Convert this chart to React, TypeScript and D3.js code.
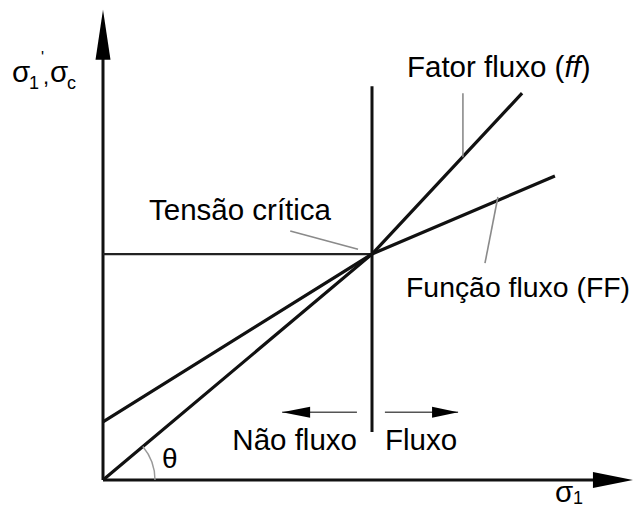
import React from 'react';
import * as d3 from 'd3';

// chart values, in arbitrary stress units
const criticalPoint: [number, number] = [50, 42];
const fatorFluxo: [number, number][] = [[0, 0], [50, 42], [77.9, 71.9]];
const funcaoFluxo: [number, number][] = [[0, 10.8], [50, 42], [84.0, 56.5]];
const criticalLine: [number, number][] = [[50, 8.9], [50, 73.2]];
const tensionLine: [number, number][] = [[0, 42], [50, 42]];
const axisEnds = { x: 98.5, y: 87.4 };
const noFlowArrow: [number, number][] = [[47.2, 12.6], [33.3, 12.6]];
const flowArrow: [number, number][] = [[52.4, 12.6], [66.0, 12.6]];
const leaders: [number, number][][] = [
  [[66.9, 71.9], [66.9, 60.0]],
  [[73.4, 52.6], [71.0, 40.3]],
  [[34.8, 46.3], [47.4, 42.9]],
];
const labels = ['Tensão crítica', 'Fator fluxo (', 'ff', ')', 'Função fluxo (FF)', 'Não fluxo', 'Fluxo', 'θ'];

const W = 634;
const H = 510;
const FONT = 'Liberation Sans, Arial, Helvetica, sans-serif';

export default function App() {
  const x = d3.scaleLinear().domain([0, 100]).range([103, 641]);
  const y = d3.scaleLinear().domain([0, 100]).range([480, -58]);
  const line = d3.line<[number, number]>().x(d => x(d[0])).y(d => y(d[1]));

  const ox = x(0), oy = y(0);
  const tipX = x(axisEnds.x), tipY = y(axisEnds.y);

  // theta arc between x axis and the ff line
  const angle = Math.atan2(y(0) - y(criticalPoint[1]), x(criticalPoint[0]) - x(0));
  const arc = d3.arc()({
    innerRadius: 52, outerRadius: 52,
    startAngle: Math.PI / 2 - angle, endAngle: Math.PI / 2,
  } as any);

  const arrowHead = (pts: [number, number][], len: number, half: number) => {
    const [a, b] = pts;
    const x1 = x(b[0]), yy = y(b[1]);
    const dir = x(b[0]) > x(a[0]) ? 1 : -1;
    return `M${x1},${yy} L${x1 - dir * len},${yy - half} L${x1 - dir * len},${yy + half} Z`;
  };

  return (
    <svg width={W} height={H} style={{ position: 'absolute', left: 0, top: 0, background: '#fff' }}
      fontFamily={FONT}>
      {/* axes */}
      <line x1={ox} y1={oy} x2={tipX - 30} y2={oy} stroke="#111" strokeWidth={3} />
      <line x1={ox} y1={oy} x2={ox} y2={tipY + 40} stroke="#111" strokeWidth={3} />
      <path d={`M${tipX},${oy} L${tipX - 40},${oy - 8} L${tipX - 40},${oy + 8} Z`} fill="#000" />
      <path d={`M${ox},${tipY} L${ox - 7.5},${tipY + 50} L${ox + 7.5},${tipY + 50} Z`} fill="#000" />

      {/* critical stress lines */}
      <path d={line(tensionLine)!} stroke="#222" strokeWidth={2.2} fill="none" />
      <path d={line(criticalLine)!} stroke="#111" strokeWidth={3} fill="none" />

      {/* flow factor and flow function */}
      <path d={line(fatorFluxo)!} stroke="#111" strokeWidth={3.2} fill="none" strokeLinejoin="round" />
      <path d={line(funcaoFluxo)!} stroke="#111" strokeWidth={3.2} fill="none" strokeLinejoin="round" />

      {/* leader lines */}
      {leaders.map((l, i) => (
        <path key={i} d={line(l)!} stroke="#8a8a8a" strokeWidth={1.6} fill="none" />
      ))}

      {/* flow arrows */}
      <path d={line(noFlowArrow)!} stroke="#555" strokeWidth={1.5} fill="none" />
      <path d={arrowHead(noFlowArrow, 28, 5.5)} fill="#000" />
      <path d={line(flowArrow)!} stroke="#555" strokeWidth={1.5} fill="none" />
      <path d={arrowHead(flowArrow, 26, 5.5)} fill="#000" />

      {/* theta */}
      <path d={arc!} transform={`translate(${ox},${oy})`} stroke="#999" strokeWidth={1.4} fill="none" />

      <g fontSize={29.5} fill="#000">
        <text x={149} y={220}>{labels[0]}</text>
        <text x={407} y={77}>{labels[1]}<tspan fontStyle="italic">{labels[2]}</tspan>{labels[3]}</text>
        <text x={406} y={297} fontSize={28.4}>{labels[4]}</text>
        <text x={357} y={450} textAnchor="end">{labels[5]}</text>
        <text x={385} y={450}>{labels[6]}</text>
        <text x={162} y={468} fontSize={28}>{labels[7]}</text>

        {/* y axis label */}
        <text x={12} y={82}>σ</text>
        <text x={29} y={89} fontSize={18}>1</text>
        <text x={41} y={63} fontSize={16}>'</text>
        <text x={43} y={84} fontSize={22}>,</text>
        <text x={50} y={82}>σ</text>
        <text x={67} y={89} fontSize={18}>c</text>

        {/* x axis label */}
        <text x={555} y={502}>σ</text>
        <text x={573} y={504} fontSize={18}>1</text>
      </g>
    </svg>
  );
}
